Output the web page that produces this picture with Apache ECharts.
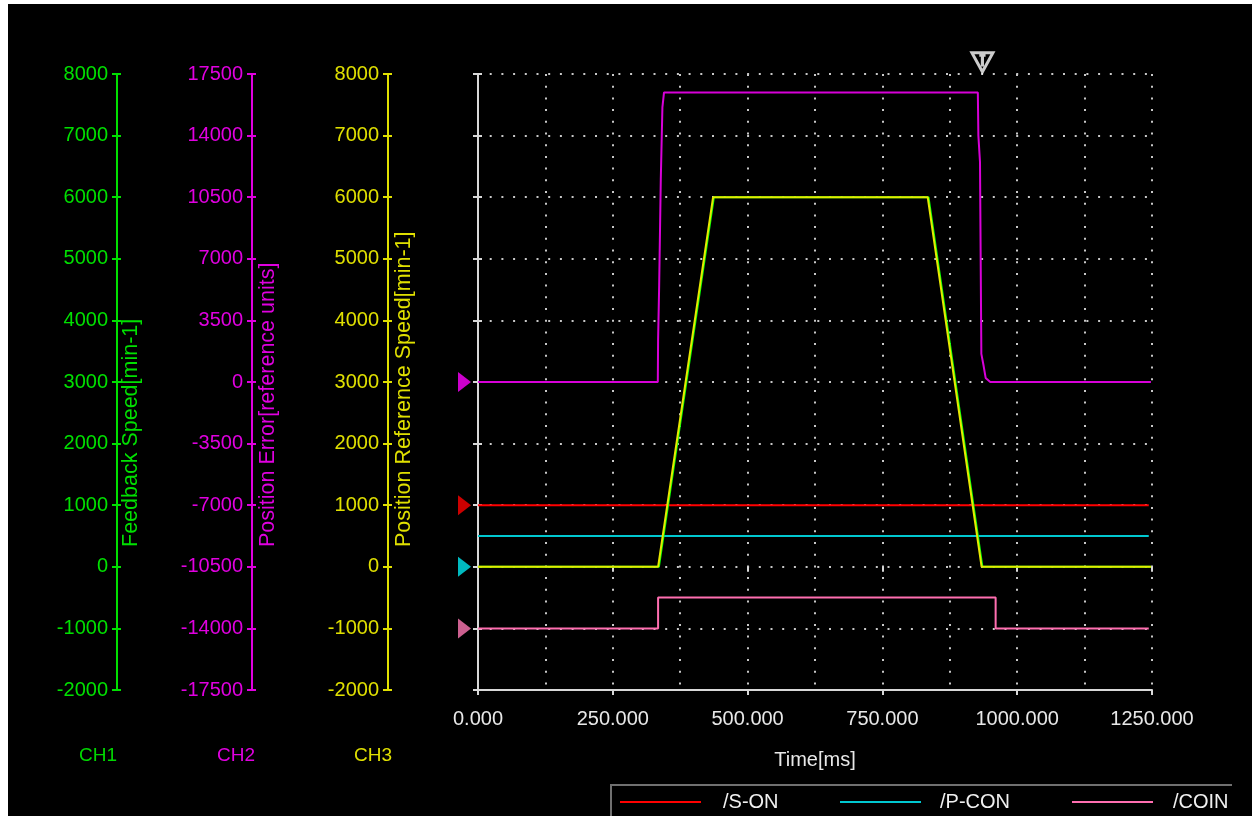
<!DOCTYPE html>
<html><head><meta charset="utf-8">
<script src="https://cdn.jsdelivr.net/npm/echarts@6/dist/echarts.min.js"></script>
<style>
html,body{margin:0;padding:0;background:#fff;width:1252px;height:816px;overflow:hidden}
#c{position:absolute;left:8px;top:4px;width:1244px;height:812px;background:#000}
</style>
</head><body><div id="c"></div>
<script>
// ---- data ----
const timeRange = [0, 1250];
const timeInterval = 250;
const speedRange = [-2000, 8000];
const speedInterval = 1000;
const errorRange = [-17500, 17500];
const errorInterval = 3500;

// CH3 position reference speed [min-1]
const refSpeed = [[0,0],[334,0],[436,6000],[834,6000],[934,0],[1248,0]];
// CH1 feedback speed [min-1]
const fbSpeed = [[0,0],[335.5,0],[437.5,6000],[835.5,6000],[935.5,0],[1248,0]];
// CH2 position error [reference units]
const posError = [[0,0],[333.5,0],[334,2400],[336,5500],[339,11500],[342,15600],[345,16450],
  [927,16450],[928,14000],[931,12500],[933.5,1600],[937.5,950],[941.5,230],[950,0],[1248,0]];
// digital signals (plotted on CH1/CH3 scale)
const sOn  = [[0,1000],[1244,1000]];
const pCon = [[0,500],[1244,500]];
const coin = [[0,-1000],[334,-1000],[334,-500],[960,-500],[960,-1000],[1244,-1000]];
// zero-level markers at left of plot
const markerTime = -25;
const markerLevels = [3000, 1000, 0, -1000];
const markerColors = ['#ff00ff', '#ff0000', '#00e8f0', '#ff78b4'];
// cursor marker
const cursorPoint = [[935.5, 8190]];

const FONT = "'Liberation Sans', Arial, sans-serif";
const dots = {color:'#c8c8c8', width:2, type:[2, 9.7]};

function yAxisPair(range, interval, offset, color, labels) {
  const main = {
    type:'value', min:range[0], max:range[1], interval:interval,
    position:'left', offset:offset,
    axisLine:{show:true, lineStyle:{color:color, width:2}},
    axisTick:{show:true, length:5, lineStyle:{color:color, width:2}},
    axisLabel:{show:labels, color:color, fontSize:20, fontFamily:FONT, margin:9,
      formatter:v => String(v), showMinLabel:true, showMaxLabel:true},
    splitLine:{show:false}
  };
  const twin = {
    type:'value', min:range[0], max:range[1], interval:interval,
    position:'left', offset:offset,
    axisLine:{show:false},
    axisTick:{show:true, inside:true, length:4, lineStyle:{color:color, width:2}},
    axisLabel:{show:false}, splitLine:{show:false}
  };
  return [main, twin];
}

const yAxes = [];
// 0,1 main plot axis
const mainPair = yAxisPair(speedRange, speedInterval, 0, '#d8d8d8', false);
mainPair[0].splitLine = {show:true, lineStyle:dots};
yAxes.push(...mainPair);
// 2,3 CH3
yAxes.push(...yAxisPair(speedRange, speedInterval, 90, '#e0e000', true));
// 4,5 CH2
yAxes.push(...yAxisPair(errorRange, errorInterval, 226, '#e000e0', true));
// 6,7 CH1
yAxes.push(...yAxisPair(speedRange, speedInterval, 361, '#00e000', true));

const lineBase = {type:'line', showSymbol:false, symbol:'none', animation:false, xAxisIndex:0};

const option = {
  animation:false,
  backgroundColor:'#000',
  grid:{left:470, top:70, width:674, height:616},
  xAxis:[{
    type:'value', min:timeRange[0], max:timeRange[1], interval:timeInterval,
    name:'Time[ms]', nameLocation:'middle', nameGap:60,
    nameTextStyle:{color:'#e8e8e8', fontSize:20, fontFamily:FONT},
    axisLine:{show:true, onZero:false, lineStyle:{color:'#d8d8d8', width:2}},
    axisTick:{show:true, length:5, lineStyle:{color:'#d8d8d8', width:2}},
    axisLabel:{color:'#e8e8e8', fontSize:20, fontFamily:FONT, margin:19,
      formatter:v => v.toFixed(3), showMinLabel:true, showMaxLabel:true},
    splitLine:{show:true, lineStyle:dots},
    minorTick:{show:false, splitNumber:2},
    minorSplitLine:{show:true, lineStyle:dots}
  },{
    type:'value', min:timeRange[0], max:timeRange[1], interval:timeInterval,
    axisLine:{show:false},
    axisTick:{show:true, inside:true, length:5, lineStyle:{color:'#d8d8d8', width:2}},
    axisLabel:{show:false}, splitLine:{show:false}
  }],
  yAxis:yAxes,
  legend:[
    {data:['/S-ON'], left:607, top:783, icon:'rect', itemWidth:81, itemHeight:2,
      textStyle:{color:'#f0f0f0', fontSize:20, fontFamily:FONT, padding:[0,0,0,17]}},
    {data:['/P-CON'], left:827, top:783, icon:'rect', itemWidth:81, itemHeight:2,
      textStyle:{color:'#f0f0f0', fontSize:20, fontFamily:FONT, padding:[0,0,0,14]}},
    {data:['/COIN'], left:1059, top:783, icon:'rect', itemWidth:81, itemHeight:2,
      textStyle:{color:'#f0f0f0', fontSize:20, fontFamily:FONT, padding:[0,0,0,15]}}
  ],
  graphic:[
    {type:'polyline', shape:{points:[[603,812],[603,781],[1224,781]]},
      style:{stroke:'#707070', lineWidth:2, fill:null}, silent:true},
    {type:'text', x:123, y:543, rotation:Math.PI/2,
      style:{text:'Feedback Speed[min-1]', fill:'#00e000', font:'21.5px '+FONT, align:'left', verticalAlign:'middle', textAlign:'left', textVerticalAlign:'middle'}},
    {type:'text', x:260, y:543, rotation:Math.PI/2,
      style:{text:'Position Error[reference units]', fill:'#e000e0', font:'21.5px '+FONT, align:'left', verticalAlign:'middle', textAlign:'left', textVerticalAlign:'middle'}},
    {type:'text', x:396, y:543, rotation:Math.PI/2,
      style:{text:'Position Reference Speed[min-1]', fill:'#e0e000', font:'21.5px '+FONT, align:'left', verticalAlign:'middle', textAlign:'left', textVerticalAlign:'middle'}},
    {type:'text', x:90, y:752, style:{text:'CH1', fill:'#00d800', font:'19px '+FONT, align:'center', verticalAlign:'middle', textAlign:'center', textVerticalAlign:'middle'}},
    {type:'text', x:228, y:752, style:{text:'CH2', fill:'#e000e0', font:'19px '+FONT, align:'center', verticalAlign:'middle', textAlign:'center', textVerticalAlign:'middle'}},
    {type:'text', x:365, y:752, style:{text:'CH3', fill:'#e0e000', font:'19px '+FONT, align:'center', verticalAlign:'middle', textAlign:'center', textVerticalAlign:'middle'}}
  ],
  series:[
    Object.assign({}, lineBase, {name:'/S-ON', yAxisIndex:0, data:sOn, color:'#ff0000', lineStyle:{width:2, color:'#ff0000'}}),
    Object.assign({}, lineBase, {name:'/P-CON', yAxisIndex:0, data:pCon, color:'#00c8d0', lineStyle:{width:2, color:'#00c8d0'}}),
    Object.assign({}, lineBase, {name:'/COIN', yAxisIndex:0, data:coin, color:'#ff6eb0', lineStyle:{width:2, color:'#ff6eb0'}}),
    Object.assign({}, lineBase, {name:'Feedback Speed', yAxisIndex:6, data:fbSpeed, color:'#00ff00', lineStyle:{width:2, color:'#00ff00'}}),
    Object.assign({}, lineBase, {name:'Position Reference Speed', yAxisIndex:2, data:refSpeed, color:'#e8e800', lineStyle:{width:2, color:'#e8e800'}}),
    Object.assign({}, lineBase, {name:'Position Error', yAxisIndex:4, data:posError, color:'#d800d8', lineStyle:{width:2, color:'#d800d8'}}),
    {type:'scatter', name:'markers', xAxisIndex:0, yAxisIndex:0, clip:false, animation:false,
      symbol:'triangle', symbolRotate:-90, symbolSize:[20,13], silent:true,
      data:markerLevels.map((v,i)=>({value:[markerTime, v], itemStyle:{color:markerColors[i]}}))},
    {type:'scatter', name:'cursor', xAxisIndex:0, yAxisIndex:0, clip:false, animation:false, silent:true,
      symbol:'path://M0,0 L20,0 L10,18 Z M10,2 L10,13 M7,2.5 L13,2.5', symbolSize:[21,19],
      itemStyle:{color:'#000', borderColor:'#ffffff', borderWidth:3},
      data:cursorPoint}
  ]
};
const chart = echarts.init(document.getElementById('c'));
chart.setOption(option);
</script>
</body></html>
